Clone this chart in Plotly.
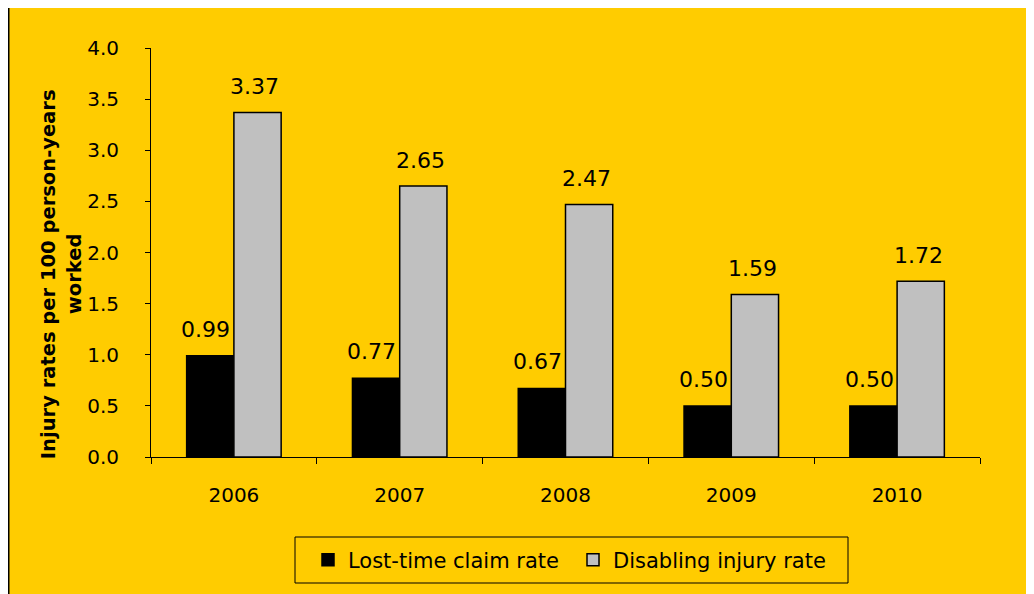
import plotly.graph_objects as go

years = ["2006", "2007", "2008", "2009", "2010"]
lost_time = [0.99, 0.77, 0.67, 0.50, 0.50]
disabling = [3.37, 2.65, 2.47, 1.59, 1.72]
series_names = ["Lost-time claim rate", "Disabling injury rate"]
y_title_lines = ["Injury rates per 100 person-years", "worked"]

FONT = "DejaVu Sans"
YELLOW = "#FFCC00"

# figure is drawn inside the page body (8px offset); plot area sized to match
L, T, PW, PH = 143, 40, 829, 409
W, H = 1026, 586

fig = go.Figure()
fig.add_trace(go.Bar(x=years, y=lost_time, name=series_names[0],
                     marker=dict(color="#000000", line=dict(color="#000000", width=1.5))))
fig.add_trace(go.Bar(x=years, y=disabling, name=series_names[1],
                     marker=dict(color="#C0C0C0", line=dict(color="#000000", width=1.5))))

annotations = []
# category axis: annotation x given as category index
for i, v in enumerate(lost_time):
    annotations.append(dict(x=i, y=v, xref="x", yref="y", text=f"{v:.2f}", showarrow=False,
                            xshift=-28, yshift=12, yanchor="bottom",
                            font=dict(family=FONT, size=22, color="#000000")))
for i, v in enumerate(disabling):
    annotations.append(dict(x=i, y=v, xref="x", yref="y", text=f"{v:.2f}", showarrow=False,
                            xshift=21, yshift=11, yanchor="bottom",
                            font=dict(family=FONT, size=22, color="#000000")))
# y-axis title, two lines
annotations.append(dict(x=(40 - L) / PW, y=0.447, xref="paper", yref="paper", text=f"<b>{y_title_lines[0]}</b>",
                        textangle=-90, showarrow=False, xanchor="center", yanchor="middle",
                        font=dict(family=FONT, size=19.5, color="#000000")))
annotations.append(dict(x=(66 - L) / PW, y=0.447, xref="paper", yref="paper", text=f"<b>{y_title_lines[1]}</b>",
                        textangle=-90, showarrow=False, xanchor="center", yanchor="middle",
                        font=dict(family=FONT, size=19.5, color="#000000")))

fig.update_layout(
    width=W, height=H,
    margin=dict(l=L, r=W - L - PW, t=T, b=H - T - PH),
    paper_bgcolor=YELLOW, plot_bgcolor=YELLOW,
    barmode="group", bargap=0.43, bargroupgap=0,
    font=dict(family=FONT, size=20, color="#000000"),
    showlegend=True,
    legend=dict(orientation="h", x=(300 - L) / PW, y=(PH + T - 552) / PH, xanchor="left", yanchor="middle",
                borderwidth=0, bgcolor="rgba(0,0,0,0)",
                font=dict(family=FONT, size=21, color="#000000"),
                entrywidth=220, itemwidth=30),
    annotations=annotations,
    shapes=[
        # legend frame
        dict(type="rect", xref="paper", yref="paper",
             x0=(287 - L) / PW, x1=(840 - L) / PW,
             y0=(PH + T - 575) / PH, y1=(PH + T - 529) / PH,
             fillcolor="rgba(0,0,0,0)", line=dict(color="#000000", width=1)),
        # left page edge line
        dict(type="line", xref="paper", yref="paper",
             x0=(0.75 - L) / PW, x1=(0.75 - L) / PW,
             y0=(PH + T - H) / PH, y1=(PH + T) / PH,
             line=dict(color="#000000", width=1.5)),
    ],
)

fig.update_yaxes(range=[0, 4], dtick=0.5, tick0=0, tickformat=".1f",
                 showgrid=False, zeroline=False, showline=True, linecolor="#000000", linewidth=1,
                 ticks="outside", ticklen=5, tickcolor="#000000", ticklabelstandoff=22,
                 tickfont=dict(family=FONT, size=20, color="#000000"))
fig.update_xaxes(type="category", showgrid=False, showline=True, linecolor="#000000", linewidth=1,
                 ticks="outside", ticklen=6, tickcolor="#000000", tickson="boundaries",
                 ticklabelstandoff=20,
                 tickfont=dict(family=FONT, size=20, color="#000000"))

fig.write_html("out.html")
